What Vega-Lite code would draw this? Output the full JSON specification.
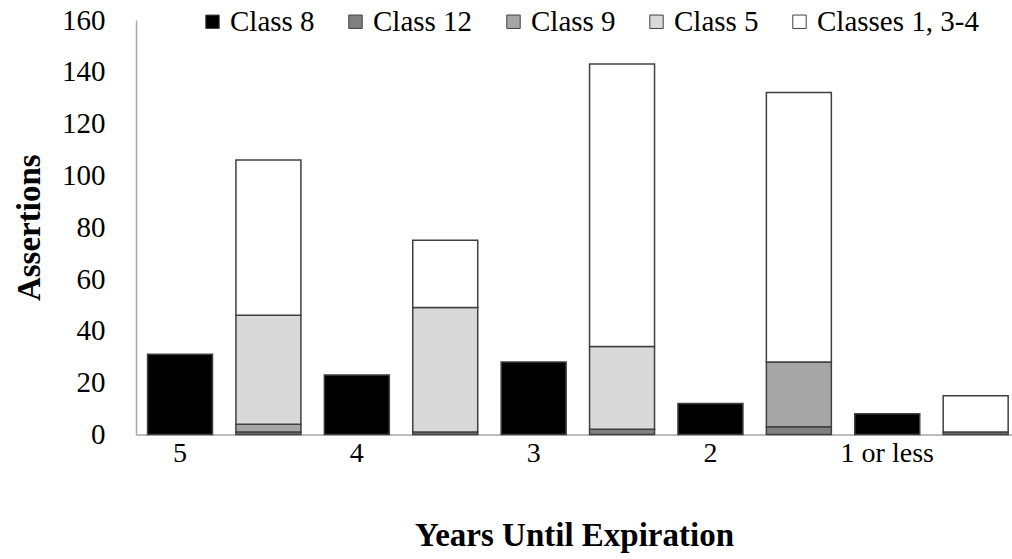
{
  "$schema": "https://vega.github.io/schema/vega-lite/v6.json",
  "autosize": {"type": "none"},
  "padding": {"left": 136, "top": 20, "right": 0, "bottom": 124.5},
  "width": 876,
  "height": 414.5,
  "background": "white",
  "config": {"view": {"stroke": null}, "font": "Liberation Serif"},
  "data": {
    "values": [
      {"slot": "5", "cls": "Class 8", "value": 31},
      {"slot": "4", "cls": "Class 8", "value": 23},
      {"slot": "3", "cls": "Class 8", "value": 28},
      {"slot": "2", "cls": "Class 8", "value": 12},
      {"slot": "1 or less", "cls": "Class 8", "value": 8},
      {"slot": "5|s", "cls": "Class 12", "value": 1},
      {"slot": "5|s", "cls": "Class 9", "value": 3},
      {"slot": "5|s", "cls": "Class 5", "value": 42},
      {"slot": "5|s", "cls": "Classes 1, 3-4", "value": 60},
      {"slot": "4|s", "cls": "Class 12", "value": 1},
      {"slot": "4|s", "cls": "Class 5", "value": 48},
      {"slot": "4|s", "cls": "Classes 1, 3-4", "value": 26},
      {"slot": "3|s", "cls": "Class 12", "value": 2},
      {"slot": "3|s", "cls": "Class 5", "value": 32},
      {"slot": "3|s", "cls": "Classes 1, 3-4", "value": 109},
      {"slot": "2|s", "cls": "Class 12", "value": 3},
      {"slot": "2|s", "cls": "Class 9", "value": 25},
      {"slot": "2|s", "cls": "Classes 1, 3-4", "value": 104},
      {"slot": "1 or less|s", "cls": "Class 12", "value": 1},
      {"slot": "1 or less|s", "cls": "Classes 1, 3-4", "value": 14}
    ]
  },
  "transform": [
    {"calculate": "indexof(['Class 8','Class 12','Class 9','Class 5','Classes 1, 3-4'], datum.cls)", "as": "ord"}
  ],
  "mark": {"type": "bar", "stroke": "#404040", "strokeWidth": 1.5},
  "encoding": {
    "x": {
      "field": "slot",
      "type": "nominal",
      "sort": ["5", "5|s", "4", "4|s", "3", "3|s", "2", "2|s", "1 or less", "1 or less|s"],
      "scale": {
        "domain": ["5", "5|s", "4", "4|s", "3", "3|s", "2", "2|s", "1 or less", "1 or less|s"],
        "paddingInner": 0.265,
        "paddingOuter": 0.087,
        "align": 0.75,
        "round": false
      },
      "axis": {
        "title": "Years Until Expiration",
        "titleFont": "Liberation Serif",
        "titleFontSize": 33,
        "titleFontWeight": "bold",
        "titleColor": "black",
        "titleY": 111,
        "titleBaseline": "alphabetic",
        "labelExpr": "indexof(datum.value, '|') >= 0 ? '' : datum.value",
        "labelAngle": 0,
        "labelFont": "Liberation Serif",
        "labelFontSize": 28,
        "labelColor": "black",
        "labelPadding": 5,
        "ticks": false,
        "domainColor": "#a6a6a6",
        "domainWidth": 1.5,
        "grid": false
      }
    },
    "y": {
      "field": "value",
      "type": "quantitative",
      "stack": "zero",
      "scale": {"domain": [0, 160], "nice": false},
      "axis": {
        "title": "Assertions",
        "titleFont": "Liberation Serif",
        "titleFontSize": 33,
        "titleFontWeight": "bold",
        "titleColor": "black",
        "titleX": -97,
        "titleBaseline": "alphabetic",
        "values": [0, 20, 40, 60, 80, 100, 120, 140, 160],
        "labelFont": "Liberation Serif",
        "labelFontSize": 29,
        "labelColor": "black",
        "labelPadding": 31,
        "labelFlush": false,
        "labelOverlap": false,
        "ticks": false,
        "grid": false,
        "domainColor": "#a6a6a6",
        "domainWidth": 1.5
      }
    },
    "color": {
      "field": "cls",
      "type": "nominal",
      "sort": ["Class 8", "Class 12", "Class 9", "Class 5", "Classes 1, 3-4"],
      "scale": {
        "domain": ["Class 8", "Class 12", "Class 9", "Class 5", "Classes 1, 3-4"],
        "range": ["#000000", "#808080", "#a6a6a6", "#d9d9d9", "#ffffff"]
      },
      "legend": {
        "orient": "none",
        "direction": "horizontal",
        "legendX": 62,
        "legendY": -13,
        "title": null,
        "symbolType": "square",
        "symbolSize": 180,
        "symbolStrokeColor": "#404040",
        "symbolStrokeWidth": 1,
        "labelFont": "Liberation Serif",
        "labelFontSize": 29,
        "labelColor": "black",
        "labelOffset": 3,
        "labelLimit": 400,
        "columnPadding": 26,
        "padding": 0
      }
    },
    "order": {"field": "ord", "type": "quantitative"}
  }
}
